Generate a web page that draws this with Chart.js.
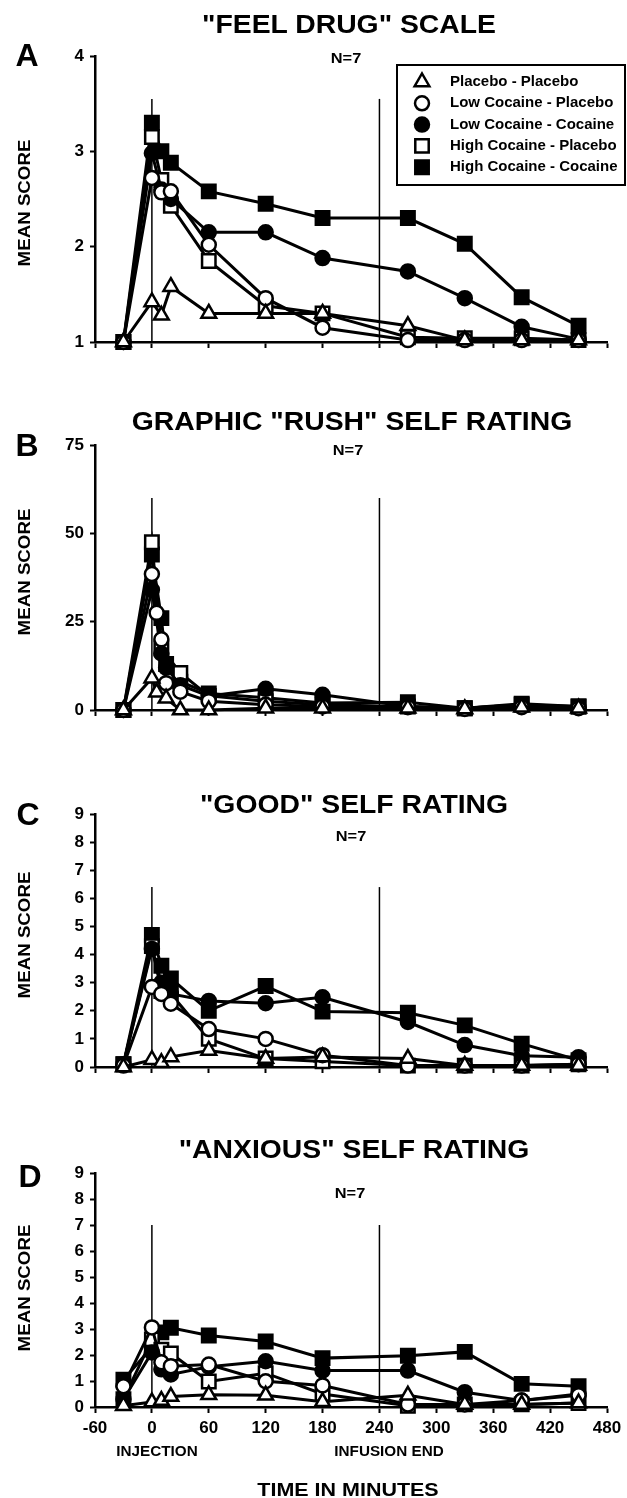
<!DOCTYPE html>
<html>
<head>
<meta charset="utf-8">
<script src="https://cdn.jsdelivr.net/npm/chart.js@4.4.1/dist/chart.umd.min.js"></script>
<style>
  html, body { margin: 0; padding: 0; background: #fff; }
  #page { position: relative; width: 627px; height: 1498px; overflow: hidden;
          font-family: "Liberation Sans", Arial, sans-serif; font-weight: bold; color: #000; }
  #page canvas { position: absolute; left: 0; }
  .t { position: absolute; white-space: nowrap; line-height: 1; transform: translate(-50%, -50%) scaleX(1.09); }
  .title { font-size: 26px; }
  .letter { font-size: 32px; transform: translate(-50%, -50%); }
  .n { font-size: 15px; }
  .ylab { font-size: 17px; transform: translate(-50%, -50%) rotate(-90deg) scaleX(1.1); }
  .xnote { font-size: 14px; }
  .xtitle { font-size: 19px; transform: translate(-50%, -50%) scaleX(1.13); }
</style>
</head>
<body>
<div id="page">
  <canvas id="chartA" width="627" height="380" style="top:0px"></canvas>
  <canvas id="chartB" width="627" height="360" style="top:380px"></canvas>
  <canvas id="chartC" width="627" height="360" style="top:740px"></canvas>
  <canvas id="chartD" width="627" height="398" style="top:1100px"></canvas>

  <div class="t title" style="left:349px;top:24px">"FEEL DRUG" SCALE</div>
  <div class="t title" style="left:352px;top:421px">GRAPHIC "RUSH" SELF RATING</div>
  <div class="t title" style="left:354px;top:804px">"GOOD" SELF RATING</div>
  <div class="t title" style="left:354px;top:1149px">"ANXIOUS" SELF RATING</div>

  <div class="t letter" style="left:27px;top:55px">A</div>
  <div class="t letter" style="left:27px;top:445px">B</div>
  <div class="t letter" style="left:28px;top:814px">C</div>
  <div class="t letter" style="left:30px;top:1176px">D</div>

  <div class="t n" style="left:346px;top:57px">N=7</div>
  <div class="t n" style="left:348px;top:449px">N=7</div>
  <div class="t n" style="left:351px;top:835px">N=7</div>
  <div class="t n" style="left:350px;top:1192px">N=7</div>

  <div class="t ylab" style="left:24px;top:203px">MEAN SCORE</div>
  <div class="t ylab" style="left:24px;top:572px">MEAN SCORE</div>
  <div class="t ylab" style="left:24px;top:935px">MEAN SCORE</div>
  <div class="t ylab" style="left:24px;top:1288px">MEAN SCORE</div>

  <div class="t xnote" style="left:157px;top:1451px">INJECTION</div>
  <div class="t xnote" style="left:389px;top:1451px">INFUSION END</div>
  <div class="t xtitle" style="left:348px;top:1489px">TIME IN MINUTES</div>
</div>

<script>
// sampling times (minutes)
const TIMES = [-30, 0, 10, 20, 60, 120, 180, 270, 330, 390, 450];
const TIMES_B = [-30, 0, 5, 10, 15, 30, 60, 120, 180, 270, 330, 390, 450];
const EVENT_TIMES = [0, 240]; // injection, infusion end

const SERIES_LABELS = [
  'Placebo - Placebo',
  'Low Cocaine - Placebo',
  'Low Cocaine - Cocaine',
  'High Cocaine - Placebo',
  'High Cocaine - Cocaine'
];

// A: "feel drug" scale
const A_PLACEBO_PLACEBO = [1.0, 1.42, 1.28, 1.58, 1.3, 1.3, 1.3, 1.17, 1.02, 1.02, 1.02];
const A_LOWCOC_PLACEBO = [1.0, 2.72, 2.57, 2.58, 2.02, 1.46, 1.15, 1.02, 1.02, 1.02, 1.02];
const A_LOWCOC_COCAINE = [1.0, 2.98, 2.6, 2.5, 2.15, 2.15, 1.88, 1.74, 1.46, 1.16, 1.03];
const A_HIGHCOC_PLACEBO = [1.0, 3.15, 2.7, 2.43, 1.85, 1.38, 1.3, 1.05, 1.04, 1.04, 1.02];
const A_HIGHCOC_COCAINE = [1.0, 3.3, 3.0, 2.88, 2.58, 2.45, 2.3, 2.3, 2.03, 1.47, 1.17];

// B: graphic "rush" rating (null = no marker at that time)
const B_PLACEBO_PLACEBO = [0, 9, 5, null, 3.3, 0, 0, 0.5, 0.5, 0.5, 0.3, 0.8, 0.5];
const B_LOWCOC_PLACEBO = [0, 38.5, 27.5, 20, 7.6, 5.2, 2.5, 1.5, 1, 0.8, 0.3, 0.8, 0.5];
const B_LOWCOC_COCAINE = [0, 34, null, 16, 12, 7, 4, 6, 4.3, 1, 0.5, 1.5, 0.8];
const B_HIGHCOC_PLACEBO = [0, 47.5, null, 17.5, null, 10.5, 4, 2.5, 1.5, 1, 0.5, 1.5, 1];
const B_HIGHCOC_COCAINE = [0, 44, null, 26, 13, 8, 4.7, 3.5, 2, 2.2, 0.5, 1.8, 1];

// C: "good" rating
const C_PLACEBO_PLACEBO = [0.0, 0.26, 0.15, 0.36, 0.59, 0.3, 0.36, 0.3, 0.05, 0.05, 0.05];
const C_LOWCOC_PLACEBO = [0.05, 2.85, 2.6, 2.25, 1.35, 1.0, 0.42, 0.05, 0.05, 0.05, 0.1];
const C_LOWCOC_COCAINE = [0.1, 4.2, 3.0, 2.6, 2.35, 2.27, 2.48, 1.6, 0.78, 0.4, 0.35];
const C_HIGHCOC_PLACEBO = [0.1, 4.3, 2.7, 2.6, 1.0, 0.3, 0.2, 0.05, 0.05, 0.05, 0.1];
const C_HIGHCOC_COCAINE = [0.1, 4.7, 3.6, 3.15, 2.0, 2.88, 1.97, 1.93, 1.48, 0.83, 0.24];

// D: "anxious" rating
const D_PLACEBO_PLACEBO = [0.05, 0.19, 0.25, 0.4, 0.47, 0.45, 0.2, 0.45, 0.1, 0.1, 0.15];
const D_LOWCOC_PLACEBO = [0.8, 3.06, 1.72, 1.57, 1.63, 0.99, 0.83, 0.1, 0.1, 0.25, 0.45];
const D_LOWCOC_COCAINE = [0.3, 2.1, 1.45, 1.25, 1.55, 1.76, 1.4, 1.4, 0.57, 0.25, 0.5];
const D_HIGHCOC_PLACEBO = [0.3, 2.6, 2.2, 2.06, 0.98, 1.3, 0.5, 0.05, 0.1, 0.1, 0.15];
const D_HIGHCOC_COCAINE = [1.05, 2.3, 2.87, 3.05, 2.75, 2.52, 1.88, 1.97, 2.12, 0.89, 0.8];

// height of the vertical event lines in each panel
const EVENT_LINE_TOP = { A: 3.55, B: 60, C: 6.4, D: 7 };

const FONT = '"Liberation Sans", Arial, sans-serif';

const MARKERS = [
  { style: 'triangle', fill: '#fff', r: 8.5 },
  { style: 'circle', fill: '#fff', r: 7 },
  { style: 'circle', fill: '#000', r: 7 },
  { style: 'rect', fill: '#fff', r: 9.5 },
  { style: 'rect', fill: '#000', r: 9.5 }
];

function drawMarker(ctx, m, x, y) {
  ctx.beginPath();
  if (m.style === 'circle') {
    ctx.arc(x, y, m.r, 0, Math.PI * 2);
  } else if (m.style === 'rect') {
    const s = m.r * Math.SQRT1_2;
    ctx.rect(x - s, y - s, 2 * s, 2 * s);
  } else {
    const h = m.r;
    ctx.moveTo(x, y - h);
    ctx.lineTo(x + h * 0.866, y + h / 2);
    ctx.lineTo(x - h * 0.866, y + h / 2);
    ctx.closePath();
  }
  ctx.fillStyle = m.fill;
  ctx.fill();
  ctx.lineWidth = 2.5;
  ctx.strokeStyle = '#000';
  ctx.stroke();
}

const boxLegend = {
  id: 'boxLegend',
  afterDraw(chart) {
    const ctx = chart.ctx;
    ctx.save();
    ctx.lineWidth = 2;
    ctx.strokeStyle = '#000';
    ctx.strokeRect(397, 65, 228, 120);
    ctx.font = 'bold 15px ' + FONT;
    ctx.textBaseline = 'middle';
    SERIES_LABELS.forEach((label, i) => {
      const y = 82 + i * 21.3;
      drawMarker(ctx, MARKERS[i], 422, y);
      ctx.fillStyle = '#000';
      ctx.fillText(label, 450, y);
    });
    ctx.restore();
  }
};

function makePanel(id, opts) {
  const datasets = opts.series.map((vals, i) => ({
    label: SERIES_LABELS[i],
    data: opts.times.map((t, j) => ({ x: t, y: vals[j] })).filter(p => p.y !== null),
    borderColor: '#000',
    borderWidth: 3,
    pointStyle: MARKERS[i].style,
    pointRadius: MARKERS[i].r,
    pointBorderWidth: 2.5,
    pointBorderColor: '#000',
    pointBackgroundColor: MARKERS[i].fill,
    tension: 0,
    clip: false
  }));
  EVENT_TIMES.forEach(t => {
    datasets.push({
      data: [{ x: t, y: opts.yMin }, { x: t, y: opts.eventTop }],
      borderColor: '#000',
      borderWidth: 1.5,
      pointRadius: 0,
      clip: false
    });
  });

  return new Chart(document.getElementById(id), {
    type: 'line',
    data: { datasets },
    plugins: opts.legend ? [boxLegend] : [],
    options: {
      responsive: false,
      animation: false,
      events: [],
      layout: { padding: { top: opts.padTop, bottom: opts.padBottom, left: 0, right: 20 } },
      plugins: { legend: { display: false }, tooltip: { enabled: false } },
      scales: {
        x: {
          type: 'linear', min: -60, max: 480,
          ticks: {
            stepSize: 60, display: opts.xLabels, color: '#000', padding: 5,
            maxRotation: 0, autoSkip: false,
            font: { family: FONT, weight: 'bold', size: 17 }
          },
          grid: { drawOnChartArea: false, drawTicks: true, tickLength: 6, tickColor: '#000', tickWidth: 2 },
          border: { display: true, color: '#000', width: 2.5 },
          afterFit: s => { s.height = opts.xHeight; }
        },
        y: {
          type: 'linear', min: opts.yMin, max: opts.yMax,
          ticks: {
            stepSize: opts.yStep, color: '#000', padding: 6,
            font: { family: FONT, weight: 'bold', size: 17 }
          },
          grid: { drawOnChartArea: false, drawTicks: true, tickLength: 5, tickColor: '#000', tickWidth: 2 },
          border: { display: true, color: '#000', width: 2.5 },
          afterFit: s => { s.width = 95; }
        }
      }
    }
  });
}

makePanel('chartA', {
  times: TIMES,
  series: [A_PLACEBO_PLACEBO, A_LOWCOC_PLACEBO, A_LOWCOC_COCAINE, A_HIGHCOC_PLACEBO, A_HIGHCOC_COCAINE],
  yMin: 1, yMax: 4, yStep: 1, eventTop: EVENT_LINE_TOP.A,
  padTop: 56, padBottom: 8, xHeight: 30, xLabels: false, legend: true
});
makePanel('chartB', {
  times: TIMES_B,
  series: [B_PLACEBO_PLACEBO, B_LOWCOC_PLACEBO, B_LOWCOC_COCAINE, B_HIGHCOC_PLACEBO, B_HIGHCOC_COCAINE],
  yMin: 0, yMax: 75, yStep: 25, eventTop: EVENT_LINE_TOP.B,
  padTop: 65, padBottom: 0, xHeight: 30, xLabels: false
});
makePanel('chartC', {
  times: TIMES,
  series: [C_PLACEBO_PLACEBO, C_LOWCOC_PLACEBO, C_LOWCOC_COCAINE, C_HIGHCOC_PLACEBO, C_HIGHCOC_COCAINE],
  yMin: 0, yMax: 9, yStep: 1, eventTop: EVENT_LINE_TOP.C,
  padTop: 74, padBottom: 3, xHeight: 30, xLabels: false
});
makePanel('chartD', {
  times: TIMES,
  series: [D_PLACEBO_PLACEBO, D_LOWCOC_PLACEBO, D_LOWCOC_COCAINE, D_HIGHCOC_PLACEBO, D_HIGHCOC_COCAINE],
  yMin: 0, yMax: 9, yStep: 1, eventTop: EVENT_LINE_TOP.D,
  padTop: 73, padBottom: 51, xHeight: 40, xLabels: true
});
</script>
</body>
</html>
